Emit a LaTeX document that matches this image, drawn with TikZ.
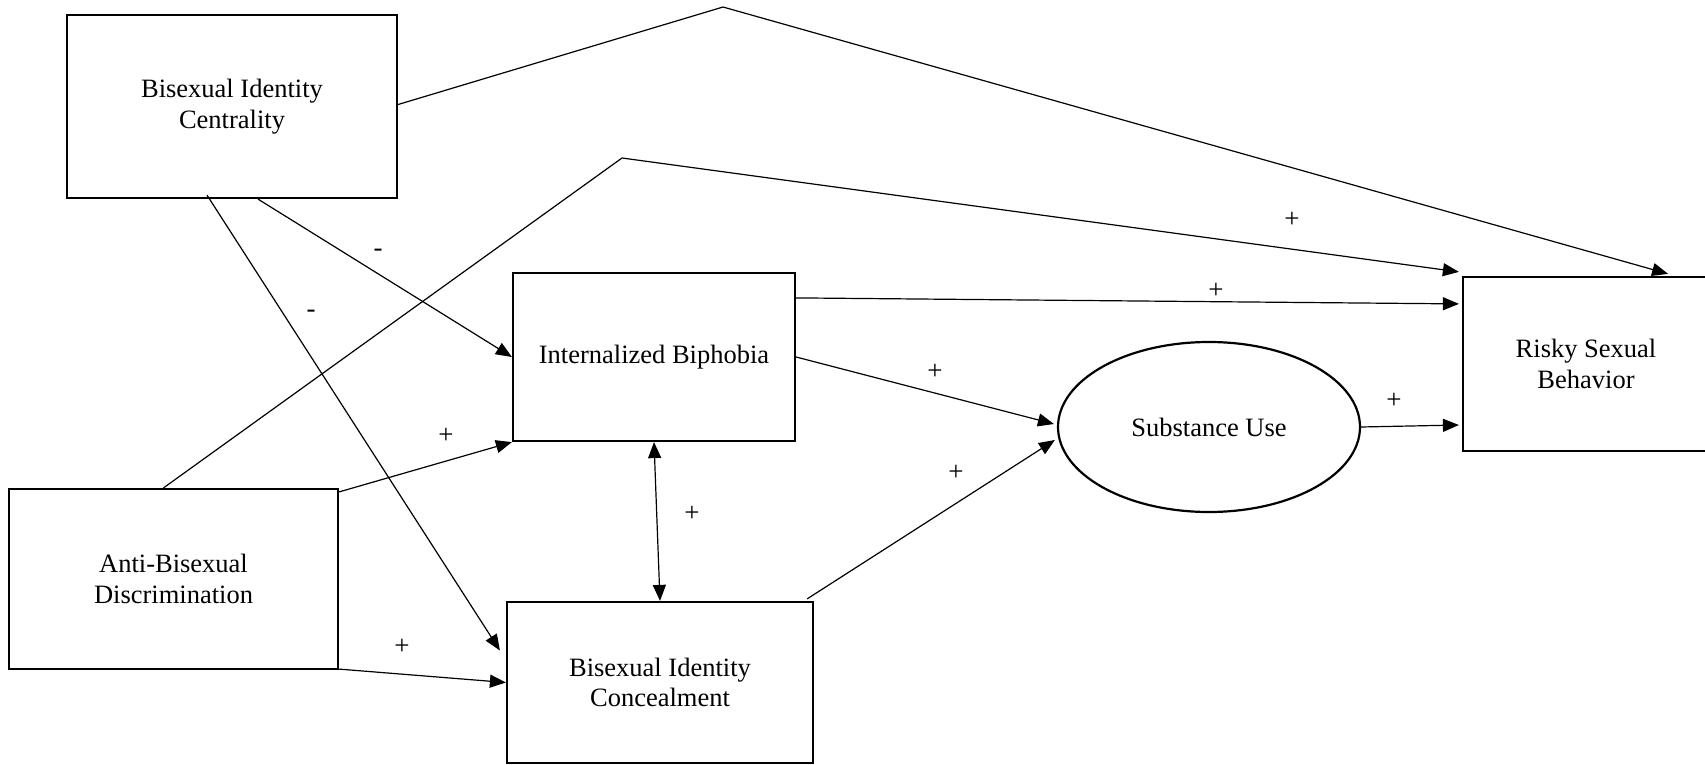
\documentclass[tikz,border=0pt]{standalone}
\usepackage{fontspec}
\setmainfont{Liberation Serif}
\usetikzlibrary{arrows.meta,calc,shapes.geometric}

\begin{document}
\begin{tikzpicture}[x=1pt,y=-1pt,
  box/.style={draw,line width=2.2pt,rectangle,align=center,inner sep=0pt,
    font=\fontsize{26.5}{30.5}\selectfont},
  oval/.style={draw,line width=2.2pt,ellipse,align=center,inner sep=0pt,
    font=\fontsize{26.5}{30.5}\selectfont},
  link/.style={line width=1.2pt},
  arr/.style={link,-{Triangle[length=16pt,width=13pt]}},
  sign/.style={font=\fontsize{27}{29}\selectfont,inner sep=0pt}]
\clip (0,0) rectangle (1705,765);
\fill[white] (0,0) rectangle (1705,765);

% constructs
\node[box,minimum width=330pt,minimum height=183pt] (cent) at (232,106.5)
  {Bisexual Identity\\Centrality};
\node[box,minimum width=282pt,minimum height=168pt] (ib) at (654,357)
  {Internalized Biphobia};
\node[box,minimum width=329pt,minimum height=180pt] (anti) at (173.5,579)
  {Anti-Bisexual\\Discrimination};
\node[box,minimum width=306pt,minimum height=161pt] (conc) at (660,682.5)
  {Bisexual Identity\\Concealment};
\node[oval,minimum width=302pt,minimum height=170pt] (su) at (1209,427)
  {Substance Use};
\node[box,minimum width=246pt,minimum height=174pt] (risky) at (1586,364)
  {Risky Sexual\\Behavior};

% bend points of the two long paths
\coordinate (p1) at (723,7);
\coordinate (p2) at (622,158);

% paths
\draw[arr] ($(cent.east)+(0,-2)$) -- (p1) -- ($(risky.north east)+(-42,-2)$);
\draw[arr] ($(anti.north)+(-10,0)$) -- (p2) -- ($(risky.north west)+(-3,-4)$);
\draw[arr] ($(ib.north east)+(0,26)$) -- ($(risky.north west)+(-3,28)$);
\draw[arr] (ib.east) -- ($(su.west)+(-3,-3)$);
\draw[arr] ($(conc.north east)+(-7,-2)$) -- ($(su.west)+(-2,13)$);
\draw[arr] (su.east) -- ($(risky.west)+(-3,61)$);
\draw[link,{Triangle[length=16pt,width=13pt]}-{Triangle[length=16pt,width=13pt]}]
  (ib.south) -- (conc.north);
\draw[arr] ($(cent.south)+(26,0)$) -- (ib.west);
\draw[arr] ($(cent.south)+(-25,-4)$) -- ($(conc.west)+(-6,-32)$);
\draw[arr] ($(anti.north east)+(0,4)$) -- (ib.south west);
\draw[arr] ($(anti.south east)+(0,-1)$) -- (conc.west);

% signs
\node[sign] (s1) at (1292,220) {+};
\node[sign] (s2) at (1216,291) {+};
\node[sign] (s3) at (935,372) {+};
\node[sign] (s4) at (956,473) {+};
\node[sign] (s5) at (1394,401) {+};
\node[sign] (s6) at (692,514) {+};
\node[sign] (s7) at (378,253) {-};
\node[sign] (s8) at (311,314) {-};
\node[sign] (s9) at (446,436) {+};
\node[sign] (s10) at (402,647) {+};
\end{tikzpicture}
\end{document}
